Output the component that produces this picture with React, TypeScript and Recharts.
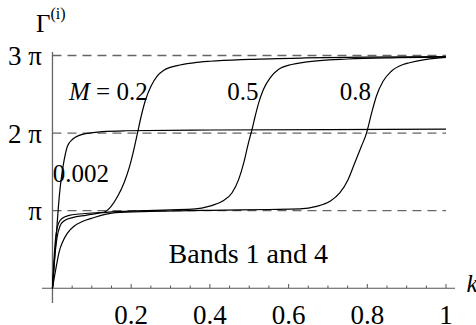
import { LineChart, Line, XAxis, YAxis, ReferenceLine, ReferenceDot } from 'recharts';

// phase Γ in units of π
const kM002 = [0, 0.003, 0.006, 0.01, 0.014, 0.018, 0.022, 0.026, 0.03, 0.038, 0.051, 0.068, 0.093, 0.127, 0.186, 0.4, 0.7, 1.0];
const gM002 = [0, 0.2, 0.42, 0.7, 0.98, 1.22, 1.4, 1.54, 1.66, 1.83, 1.92, 1.97, 2.0, 2.02, 2.03, 2.04, 2.045, 2.05];

const kM02 = [0, 0.0046, 0.0089, 0.0157, 0.026, 0.0425, 0.068, 0.102, 0.13, 0.148, 0.165, 0.182, 0.196, 0.206, 0.216, 0.226, 0.236, 0.25, 0.267, 0.283, 0.317, 0.359, 0.401, 0.5, 0.642, 0.8, 1.0];
const gM02 = [0, 0.43, 0.69, 0.84, 0.905, 0.94, 0.957, 0.97, 0.98, 1.05, 1.18, 1.36, 1.57, 1.77, 2.0, 2.23, 2.42, 2.6, 2.74, 2.81, 2.87, 2.906, 2.926, 2.95, 2.968, 2.978, 2.985];

const kM05 = [0, 0.0063, 0.0114, 0.019, 0.03, 0.051, 0.085, 0.127, 0.2, 0.3, 0.363, 0.397, 0.431, 0.456, 0.473, 0.486, 0.498, 0.507, 0.515, 0.524, 0.536, 0.553, 0.574, 0.608, 0.642, 0.75, 0.88, 1.0];
const gM05 = [0, 0.43, 0.65, 0.8, 0.87, 0.91, 0.94, 0.975, 0.995, 1.01, 1.022, 1.055, 1.12, 1.228, 1.4, 1.615, 1.874, 2.045, 2.217, 2.39, 2.561, 2.712, 2.819, 2.884, 2.914, 2.955, 2.972, 2.98];

const kM08 = [0, 0.0089, 0.017, 0.026, 0.038, 0.055, 0.076, 0.102, 0.131, 0.16, 0.25, 0.4, 0.55, 0.629, 0.671, 0.705, 0.73, 0.751, 0.768, 0.785, 0.798, 0.811, 0.823, 0.84, 0.861, 0.891, 0.907, 0.95, 1.0];
const gM08 = [0, 0.26, 0.47, 0.6, 0.71, 0.8, 0.86, 0.905, 0.95, 0.975, 0.99, 1.005, 1.015, 1.022, 1.055, 1.12, 1.228, 1.4, 1.615, 1.83, 2.0, 2.26, 2.475, 2.668, 2.797, 2.884, 2.906, 2.95, 2.975];

const xTicks = [0.2, 0.4, 0.6, 0.8, 1];
const xMinor = [0.05, 0.1, 0.15, 0.25, 0.3, 0.35, 0.45, 0.5, 0.55, 0.65, 0.7, 0.75, 0.85, 0.9, 0.95];
const yTicks = [1, 2, 3];

const SERIF = '"Liberation Serif", "Times New Roman", serif';
const FS = 25;
const TICK_FS = 27;

const rows = (ks: number[], gs: number[]) => ks.map((k, i) => ({ k, g: gs[i] }));

const series = [
  { name: 'M=0.002', data: rows(kM002, gM002) },
  { name: 'M=0.2', data: rows(kM02, gM02) },
  { name: 'M=0.5', data: rows(kM05, gM05) },
  { name: 'M=0.8', data: rows(kM08, gM08) },
];

type Part = { t: string; italic?: boolean; sup?: boolean };

const TextMark = (props: any) => {
  const vb = props.viewBox || {};
  const x = (vb.x ?? props.x ?? 0) + (vb.width ?? 0) / 2;
  const y = (vb.y ?? props.y ?? 0) + (vb.height ?? 0) / 2;
  const parts: Part[] = props.parts;
  const size = props.size ?? FS;
  return (
    <text x={x} y={y} fontFamily={SERIF} fontSize={size} fill="#000">
      {parts.map((p, i) => (
        <tspan
          key={i}
          fontStyle={p.italic ? 'italic' : 'normal'}
          fontSize={p.sup ? 16 : size}
          dy={p.sup ? -13 : 0}
        >
          {p.t}
        </tspan>
      ))}
    </text>
  );
};

const labels: { k: number; g: number; size?: number; parts: Part[] }[] = [
  { k: 0.042, g: 2.43, parts: [{ t: 'M', italic: true }, { t: ' = 0.2' }] },
  { k: 0.444, g: 2.43, parts: [{ t: '0.5' }] },
  { k: 0.73, g: 2.43, parts: [{ t: '0.8' }] },
  { k: 0.001, g: 1.37, parts: [{ t: '0.002' }] },
  { k: 0.295, g: 0.32, size: 28, parts: [{ t: 'Bands 1 and 4' }] },
  { k: -0.042, g: 3.3, parts: [{ t: 'Γ' }, { t: '(i)', sup: true }] },
  { k: 1.052, g: -0.045, parts: [{ t: 'k', italic: true }] },
];

const piLabel = (v: number) => (v === 1 ? 'π' : `${v} π`);

export default function App() {
  return (
    <div style={{ position: 'absolute', left: 0, top: 0, background: '#fff' }}>
      <LineChart width={476} height={325} margin={{ top: 52, right: 21, bottom: 0, left: 0 }}>
        <XAxis
          dataKey="k"
          type="number"
          domain={[-0.0266, 1.0228]}
          ticks={xTicks}
          tickFormatter={(v: number) => String(v)}
          axisLine={false}
          tickLine={false}
          tickSize={0}
          tickMargin={2}
          height={22}
          tick={{ fontFamily: SERIF, fontSize: TICK_FS, fill: '#000' }}
          allowDataOverflow
        />
        <YAxis
          type="number"
          domain={[-0.19, 3.045]}
          ticks={yTicks}
          tickFormatter={piLabel}
          axisLine={false}
          tickLine={false}
          tickSize={0}
          tickMargin={0}
          width={42}
          tick={{ fontFamily: SERIF, fontSize: TICK_FS, fill: '#000' }}
          allowDataOverflow
        />
        {yTicks.map((v) => (
          <ReferenceLine
            key={'d' + v}
            segment={[{ x: 0, y: v }, { x: 1, y: v }]}
            stroke="#666"
            strokeWidth={1.3}
            strokeDasharray="9 6"
          />
        ))}
        <ReferenceLine y={0} stroke="#555" strokeWidth={1.2} />
        <ReferenceLine x={0} stroke="#666" strokeWidth={1.3} />
        {xTicks.map((t) => (
          <ReferenceLine key={'t' + t} segment={[{ x: t, y: 0 }, { x: t, y: 0.055 }]} stroke="#555" strokeWidth={1} />
        ))}
        {xMinor.map((t) => (
          <ReferenceLine key={'m' + t} segment={[{ x: t, y: 0 }, { x: t, y: 0.035 }]} stroke="#555" strokeWidth={1} />
        ))}
        {series.map((s) => (
          <Line
            key={s.name}
            data={s.data}
            dataKey="g"
            name={s.name}
            type="monotone"
            stroke="#000"
            strokeWidth={1.2}
            dot={false}
            activeDot={false}
            isAnimationActive={false}
          />
        ))}
        {labels.map((l, i) => (
          <ReferenceDot
            key={'l' + i}
            x={l.k}
            y={l.g}
            r={1}
            fill="none"
            stroke="none"
            ifOverflow="visible"
            label={<TextMark parts={l.parts} size={l.size} />}
          />
        ))}
      </LineChart>
    </div>
  );
}
